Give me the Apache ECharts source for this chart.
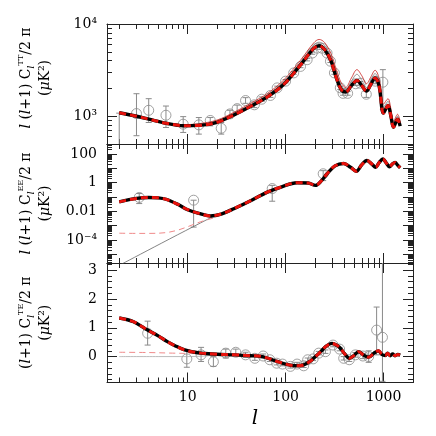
<!DOCTYPE html>
<html>
<head>
<meta charset="utf-8">
<script src="https://cdn.jsdelivr.net/npm/echarts@6/dist/echarts.min.js"></script>
<style>
  html, body { margin: 0; padding: 0; background: #fff; }
  #chart { width: 436px; height: 436px; }
</style>
</head>
<body>
<div id="chart"></div>
<script>
// ---- TT panel ----
const ttL = [2, 3, 4, 6, 9, 13, 20, 30, 45, 65, 96, 142, 194, 220, 250, 290, 330, 370, 410, 470, 535, 600, 670, 740, 820, 900, 1000, 1110, 1190, 1265, 1390, 1480]
const ttModel = [1090, 1000, 930, 840, 790, 795, 860, 1040, 1300, 1620, 2220, 3600, 5450, 5800, 5300, 4000, 2600, 1950, 1830, 2150, 2440, 2150, 1870, 2200, 2600, 2150, 1080, 1310, 1000, 760, 930, 780]
const ttAltRed = [1090, 1000, 935, 850, 810, 830, 910, 1110, 1400, 1760, 2480, 4050, 6250, 6800, 6300, 4800, 3200, 2300, 2050, 2600, 3200, 2750, 2250, 2650, 3150, 2600, 1350, 1550, 1200, 880, 1050, 880]
const ttAltGrey = [1090, 1000, 932, 845, 800, 815, 885, 1080, 1350, 1700, 2380, 3850, 5900, 6350, 5850, 4450, 2950, 2150, 1950, 2400, 2850, 2450, 2050, 2450, 2900, 2400, 1250, 1450, 1120, 830, 1000, 840]
// measured band powers: l, value, lower, upper
const ttPtL = [2, 3, 4, 6, 9, 13, 17, 22, 27, 32, 39, 48, 57, 70, 82, 100, 121, 142, 166, 187, 210, 236, 265, 287, 315, 362, 386, 430, 520, 580, 667, 824, 985]
const ttPtV = [250, 1069, 1160, 1025, 820, 806, 900, 740, 1060, 1210, 1480, 1330, 1530, 1680, 2030, 2400, 2950, 3470, 4100, 4840, 5470, 5470, 4840, 3950, 2950, 2030, 1770, 1770, 2250, 2280, 1730, 2400, 2340]
const ttPtLo = [100, 615, 855, 755, 667, 640, 787, 640, 960, 1110, 1380, 1240, 1450, 1600, 1940, 2300, 2850, 3360, 3980, 4700, 5320, 5320, 4700, 3820, 2850, 1950, 1690, 1690, 2150, 2180, 1600, 2250, 1190]
const ttPtHi = [1080, 1755, 1550, 1290, 990, 968, 968, 855, 1160, 1320, 1590, 1430, 1620, 1770, 2120, 2500, 3050, 3580, 4220, 4980, 5620, 5620, 4980, 4080, 3060, 2110, 1850, 1850, 2350, 2380, 1870, 2550, 3200]
const ttTickVals = [1000, 10000]
const ttTickText = ['10³', '10⁴']

// ---- EE panel ----
const eeL = [2, 3, 4, 5, 6, 8, 10, 13, 17, 22, 30, 45, 65, 90, 131, 170, 202, 235, 265, 320, 392, 460, 527, 600, 678, 760, 830, 905, 985, 1065, 1150, 1230, 1310, 1400, 1480]
const eeModel = [0.046, 0.08, 0.093, 0.088, 0.07, 0.03, 0.013, 0.0072, 0.0048, 0.0065, 0.016, 0.06, 0.22, 0.5, 1.0, 0.95, 0.65, 1.5, 4.2, 15, 22, 12, 6.3, 18, 35, 20, 12, 26, 45, 24, 13, 20, 26, 16, 11]
const eeRedL = [2, 3, 4, 6, 8, 10, 13.6, 18.7, 22]
const eeRed = [3.0e-4, 2.9e-4, 2.9e-4, 3.3e-4, 5e-4, 8.5e-4, 0.0019, 0.0036, 0.0058]
const eeGreyL = [2, 18.7, 22, 30]
const eeGrey = [1.7e-6, 0.0048, 0.0065, 0.016]
const eePtL = [3.2, 11.5, 73, 242]
const eePtV = [0.093, 0.06, 0.39, 4.2]
const eePtLo = [0.035, 0.0008, 0.051, 1.4]
const eePtHi = [0.175, 0.06, 0.65, 6.9]
const eeTickVals = [1e-4, 0.01, 1, 100]
const eeTickText = ['10⁻⁴', '0.01', '1', '100']

// ---- TE panel ----
const teL = [2, 2.8, 3.9, 5, 6.2, 7.5, 9.3, 11.5, 13.7, 20, 30, 44, 58, 82, 105, 126, 153, 180, 202, 230, 255, 298, 330, 362, 400, 447, 500, 556, 630, 705, 800, 890, 960, 1040, 1100, 1170, 1240, 1310, 1400, 1480]
const teModel = [1.34, 1.21, 0.92, 0.72, 0.52, 0.37, 0.23, 0.16, 0.12, 0.08, 0.06, 0.03, 0.0, -0.17, -0.28, -0.32, -0.29, -0.15, 0.0, 0.18, 0.34, 0.46, 0.4, 0.29, 0.1, -0.06, 0.04, 0.17, 0.05, -0.02, 0.12, 0.2, 0.08, 0.04, 0.12, 0.03, 0.09, 0.03, 0.07, 0.05]
const teRedL = [2, 4, 7, 10, 13, 16]
const teRed = [0.15, 0.14, 0.12, 0.11, 0.1, 0.09]
const teGreyL = [2, 5, 10, 15, 20]
const teGrey = [0, 0, 0, 0.02, 0.07]
const tePtL = [3.9, 9.8, 13.7, 18.3, 24.5, 31, 39, 48.5, 59, 69, 81, 93, 112, 131, 153, 168, 191, 218, 255, 305, 356, 392, 447, 516, 616, 705, 850, 975]
const tePtV = [0.81, -0.08, 0.06, -0.18, 0.12, 0.15, 0.06, -0.06, 0.02, -0.11, -0.23, -0.26, -0.34, -0.26, -0.32, -0.11, -0.08, 0.12, 0.17, 0.40, 0.26, -0.06, -0.11, 0.06, 0.02, 0.0, 0.92, 0.67]
const tePtLo = [0.40, -0.37, -0.17, -0.34, -0.05, 0.04, -0.03, -0.13, -0.05, -0.17, -0.29, -0.32, -0.40, -0.32, -0.38, -0.17, -0.14, 0.06, 0.11, 0.34, 0.20, -0.12, -0.17, -0.02, -0.07, -0.20, 0.06, -0.86]
const tePtHi = [1.23, 0.23, 0.32, 0.0, 0.26, 0.26, 0.15, 0.01, 0.09, -0.05, -0.17, -0.20, -0.28, -0.20, -0.26, -0.05, -0.02, 0.18, 0.23, 0.46, 0.32, 0.0, -0.05, 0.14, 0.11, 0.20, 1.72, 4.0]
const teTickVals = [0, 1, 2, 3]
const teTickText = ['0', '1', '2', '3']

// ---- x axis ----
const xTickVals = [10, 100, 1000]
const xTickText = ['10', '100', '1000']

const FONT = 'DejaVu Serif'
const FRAME = '#222'
const GREY = '#8a8a8a'

const chart = echarts.init(document.getElementById('chart'))

function zip (xs, ys) { return xs.map((x, i) => [x, ys[i]]) }
function zip4 (a, b, c, d) { return a.map((x, i) => [x, b[i], c[i], d[i]]) }

// tick positions
function logMajors (lo, hi) {
  const out = []
  for (let e = Math.floor(Math.log10(lo)); e <= Math.ceil(Math.log10(hi)); e++) {
    const v = Math.pow(10, e)
    if (v >= lo && v <= hi) out.push(v)
  }
  return out
}
function logMinors (lo, hi) {
  const out = []
  for (let e = Math.floor(Math.log10(lo)); e <= Math.ceil(Math.log10(hi)); e++) {
    for (let m = 2; m <= 9; m++) {
      const v = +(m * Math.pow(10, e)).toPrecision(3)
      if (v >= lo && v <= hi) out.push(v)
    }
  }
  return out
}
function linTicks (lo, hi, step) {
  const out = []
  for (let v = Math.ceil(lo / step) * step; v <= hi + 1e-9; v += step) out.push(+v.toFixed(3))
  return out
}
function labelFormatter (vals, text) {
  return v => {
    const i = vals.findIndex(t => Math.abs(t - v) <= 1e-6 * Math.max(1e-4, Math.abs(t)))
    return i < 0 ? '' : text[i]
  }
}

const grids = [
  { left: 107, right: 23, top: 24, height: 120 },
  { left: 107, right: 23, top: 144, height: 119 },
  { left: 107, right: 23, top: 263, height: 119.5 }
]

// main axis (line, long ticks, labels) + minor-tick axis, mirrored on the far side
function makeAxes (dim, gi, scale, major, minor, label, name) {
  const sides = dim === 'x' ? ['bottom', 'top'] : ['left', 'right']
  const list = []
  sides.forEach((pos, si) => {
    const main = Object.assign({}, scale, {
      gridIndex: gi,
      position: pos,
      axisLine: { show: true, onZero: false, lineStyle: { color: FRAME, width: 1 } },
      axisTick: { show: true, inside: true, length: 10, customValues: major, lineStyle: { color: FRAME, width: 1 } },
      axisLabel: (si === 0 && label) ? label : { show: false },
      splitLine: { show: false }
    })
    if (si === 0 && name) Object.assign(main, name)
    list.push(main)
    list.push(Object.assign({}, scale, {
      gridIndex: gi,
      position: pos,
      axisLine: { show: false, onZero: false },
      axisTick: { show: true, inside: true, length: 5, customValues: minor, lineStyle: { color: FRAME, width: 1 } },
      axisLabel: { show: false },
      splitLine: { show: false }
    }))
  })
  return list
}

const X_MIN = 1.5
const X_MAX = 2000
const xScale = { type: 'log', min: X_MIN, max: X_MAX }
const xMajor = logMajors(X_MIN, X_MAX)
const xMinor = logMinors(X_MIN, X_MAX)

const yLabelStyle = (vals, text) => ({
  show: true,
  customValues: vals,
  formatter: labelFormatter(vals, text),
  margin: 10,
  color: '#000',
  fontFamily: FONT,
  fontSize: 14
})

const yNameRich = {
  it: { fontStyle: 'italic' },
  sup: { fontSize: 8, verticalAlign: 'top', padding: [0, 0, 4, 0] },
  sub: { fontSize: 9, fontStyle: 'italic', verticalAlign: 'bottom' }
}
const yName = (text, shift) => ({
  name: text,
  nameLocation: 'middle',
  nameRotate: 90,
  nameGap: 52,
  nameTextStyle: { color: '#000', fontFamily: FONT, fontSize: 14, lineHeight: 19, padding: [0, 0, 0, shift], rich: yNameRich }
})

const xAxis = []
  .concat(makeAxes('x', 0, xScale, xMajor, xMinor))
  .concat(makeAxes('x', 1, xScale, xMajor, xMinor))
  .concat(makeAxes('x', 2, xScale, xMajor, xMinor, {
    show: true,
    customValues: xTickVals,
    formatter: labelFormatter(xTickVals, xTickText),
    margin: 8,
    color: '#000',
    fontFamily: FONT,
    fontSize: 14
  }, {
    name: 'l',
    nameLocation: 'middle',
    nameGap: 26,
    nameTextStyle: { color: '#000', fontFamily: FONT, fontStyle: 'italic', fontSize: 20, padding: [0, 10, 0, 0] }
  }))

const TT_MIN = 500, TT_MAX = 10000
const EE_MIN = 2.5e-6, EE_MAX = 500
const TE_MIN = -0.9, TE_MAX = 3.25

const yAxis = []
  .concat(makeAxes('y', 0, { type: 'log', min: TT_MIN, max: TT_MAX },
    logMajors(TT_MIN, TT_MAX), logMinors(TT_MIN, TT_MAX),
    yLabelStyle(ttTickVals, ttTickText),
    yName('{it|l} ({it|l}+1) C{sub|l}{sup|TT}/2 π\n({it|μ}K²)', 12)))
  .concat(makeAxes('y', 1, { type: 'log', min: EE_MIN, max: EE_MAX },
    logMajors(EE_MIN, EE_MAX), logMinors(EE_MIN, EE_MAX),
    yLabelStyle(eeTickVals, eeTickText),
    yName('{it|l} ({it|l}+1) C{sub|l}{sup|EE}/2 π\n({it|μ}K²)', 0)))
  .concat(makeAxes('y', 2, { type: 'value', min: TE_MIN, max: TE_MAX },
    linTicks(TE_MIN, TE_MAX, 1), linTicks(TE_MIN, TE_MAX, 0.2),
    yLabelStyle(teTickVals, teTickText),
    yName('({it|l}+1) C{sub|l}{sup|TE}/2 π\n({it|μ}K²)', 0)))

function errorBars (pts, gi) {
  return {
    type: 'custom',
    xAxisIndex: gi * 4,
    yAxisIndex: gi * 4,
    clip: true,
    silent: true,
    data: pts,
    encode: { x: 0, y: 1 },
    renderItem (params, api) {
      const x = api.value(0)
      const top = api.coord([x, api.value(3)])
      const bot = api.coord([x, api.value(2)])
      const st = { stroke: GREY, lineWidth: 1 }
      return {
        type: 'group',
        children: [
          { type: 'line', shape: { x1: top[0], y1: top[1], x2: bot[0], y2: bot[1] }, style: st },
          { type: 'line', shape: { x1: top[0] - 3, y1: top[1], x2: top[0] + 3, y2: top[1] }, style: st },
          { type: 'line', shape: { x1: bot[0] - 3, y1: bot[1], x2: bot[0] + 3, y2: bot[1] }, style: st }
        ]
      }
    }
  }
}
function circles (xs, ys, gi) {
  return {
    type: 'scatter',
    xAxisIndex: gi * 4,
    yAxisIndex: gi * 4,
    symbol: 'circle',
    symbolSize: 10,
    itemStyle: { color: 'rgba(0,0,0,0)', borderColor: GREY, borderWidth: 1 },
    data: zip(xs, ys)
  }
}
function curve (xs, ys, gi, style) {
  return {
    type: 'line',
    xAxisIndex: gi * 4,
    yAxisIndex: gi * 4,
    showSymbol: false,
    symbol: 'none',
    smooth: 0.35,
    clip: true,
    lineStyle: style,
    data: zip(xs, ys)
  }
}
function model (xs, ys, gi) {
  return [
    curve(xs, ys, gi, { color: '#000', width: 3.4 }),
    curve(xs, ys, gi, { color: '#e8120c', width: 3, type: [7, 4] })
  ]
}

const series = [
  errorBars(zip4(ttPtL, ttPtV, ttPtLo, ttPtHi), 0),
  circles(ttPtL, ttPtV, 0),
  curve(ttL, ttAltGrey, 0, { color: '#777', width: 0.8 }),
  curve(ttL, ttAltRed, 0, { color: '#c8201c', width: 0.8 }),
  ...model(ttL, ttModel, 0),

  errorBars(zip4(eePtL, eePtV, eePtLo, eePtHi), 1),
  circles(eePtL, eePtV, 1),
  curve(eeGreyL, eeGrey, 1, { color: '#666', width: 0.8 }),
  curve(eeRedL, eeRed, 1, { color: '#f08a8a', width: 1, type: [6, 4] }),
  ...model(eeL, eeModel, 1),

  errorBars(zip4(tePtL, tePtV, tePtLo, tePtHi), 2),
  circles(tePtL, tePtV, 2),
  curve(teGreyL, teGrey, 2, { color: '#aaa', width: 0.8 }),
  curve(teRedL, teRed, 2, { color: '#f08a8a', width: 1, type: [6, 4] }),
  ...model(teL, teModel, 2)
]

chart.setOption({
  animation: false,
  backgroundColor: '#fff',
  grid: grids,
  xAxis: xAxis,
  yAxis: yAxis,
  series: series
})
</script>
</body>
</html>
